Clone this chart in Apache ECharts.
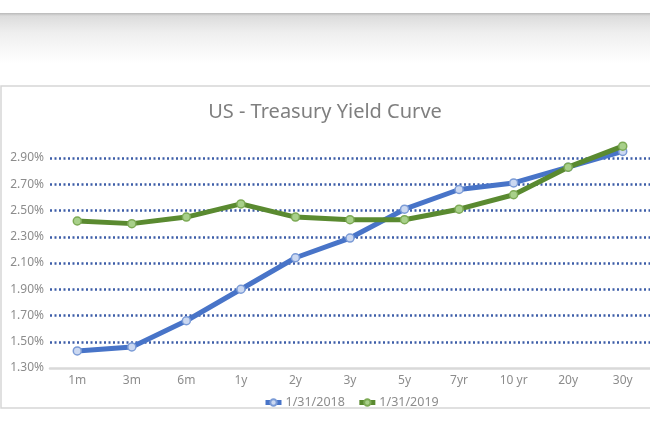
<!DOCTYPE html>
<html>
<head>
<meta charset="utf-8">
<script src="https://cdn.jsdelivr.net/npm/echarts@6/dist/echarts.min.js"></script>
<style>
html,body{margin:0;padding:0;background:#fff;}
#c{width:650px;height:432px;}
</style>
</head>
<body>
<div id="c"></div>
<script>
const categories = ['1m','3m','6m','1y','2y','3y','5y','7yr','10 yr','20y','30y'];
const series2018 = [1.43,1.46,1.66,1.90,2.14,2.29,2.51,2.66,2.71,2.83,2.95];
const series2019 = [2.42,2.40,2.45,2.55,2.45,2.43,2.43,2.51,2.62,2.83,2.99];
const seriesNames = ['1/31/2018','1/31/2019'];
const chartTitle = 'US - Treasury Yield Curve';
const yMin = 1.3, yMax = 2.9, yStep = 0.2;

const FONT = '"Noto Sans", "Open Sans", sans-serif';
const chart = echarts.init(document.getElementById('c'), null, {renderer:'canvas'});
chart.setOption({
  backgroundColor:'#ffffff',
  animation:false,
  graphic:[
    {type:'rect', z:-10, shape:{x:0,y:13,width:650,height:50},
     style:{fill:new echarts.graphic.LinearGradient(0,0,0,1,[
       {offset:0,color:'#b9b9b9'},{offset:0.06,color:'#dcdcdc'},{offset:0.4,color:'#efefef'},{offset:1,color:'#ffffff'}])}},
    {type:'rect', z:-10, shape:{x:1,y:86,width:660,height:322},
     style:{fill:'#ffffff',stroke:'#d6d6d6',lineWidth:1.5}}
  ],
  title:{text:chartTitle,left:'center',top:97,
    textStyle:{fontFamily:FONT,fontSize:20,fontWeight:'normal',color:'#7f7f7f'}},
  grid:{left:50,right:0,top:158,bottom:64,containLabel:false},
  legend:{left:258,top:391,itemWidth:16,itemHeight:8,itemGap:12,
    lineStyle:{width:5},
    textStyle:{fontFamily:FONT,fontSize:12.5,color:'#8c8c8c',padding:[0,0,0,-1]},
    data:seriesNames},
  xAxis:{type:'category',data:categories,boundaryGap:true,
    axisLine:{lineStyle:{color:'#d9d9d9',width:2.5}},
    axisTick:{show:false},
    axisLabel:{fontFamily:FONT,fontSize:12,color:'#8c8c8c',margin:7}},
  yAxis:{type:'value',min:yMin,max:yMax,interval:yStep,
    axisLine:{show:false},axisTick:{show:false},
    axisLabel:{fontFamily:FONT,fontSize:12,color:'#8c8c8c',margin:6,
      formatter:v=>v.toFixed(2)+'%'},
    splitLine:{show:true,showMinLine:false,lineStyle:{color:'#3d5da8',width:2.5,type:[2,2.5]}}},
  series:[
    {name:seriesNames[0],type:'line',data:series2018,clip:false,z:2,
     symbol:'circle',symbolSize:8,
     lineStyle:{color:'#4874c8',width:5},
     itemStyle:{color:'#cbd8f1',borderColor:'#7b9bd6',borderWidth:1.5}},
    {name:seriesNames[1],type:'line',data:series2019,clip:false,z:3,
     symbol:'circle',symbolSize:8,
     lineStyle:{color:'#5a8a30',width:5},
     itemStyle:{color:'#a8d08a',borderColor:'#7daa55',borderWidth:1.5}}
  ]
});
</script>
</body>
</html>
